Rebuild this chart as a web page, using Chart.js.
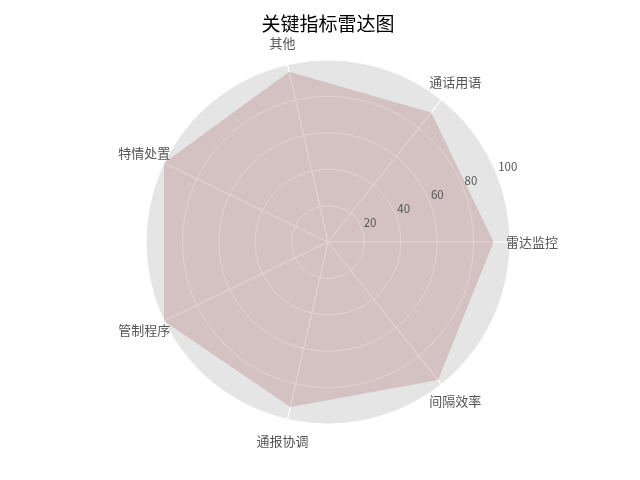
<!DOCTYPE html>
<html>
<head>
<meta charset="utf-8">
<script src="https://cdn.jsdelivr.net/npm/chart.js@4/dist/chart.umd.min.js"></script>
<style>
html,body{margin:0;padding:0;background:#fff;}
#wrap{width:640px;height:480px;}
</style>
</head>
<body>
<div id="wrap"><canvas id="c" width="640" height="480"></canvas></div>
<script>
// Data (counter-clockwise order starting at east, as in the reference)
const categories = ['雷达监控', '通话用语', '其他', '特情处置', '管制程序', '通报协调', '间隔效率'];
const values = [91, 91, 96, 100, 100, 93, 97];
const tickValues = [20, 40, 60, 80, 100];
const titleText = '关键指标雷达图';

// Chart.js radar runs clockwise; reverse the rest so first stays at east
const order = [0].concat(categories.map((_, i) => i).slice(1).reverse());
const chartLabels = order.map(i => categories[i]);
const chartValues = order.map(i => values[i]);

const FONT = '"Noto Sans CJK SC", "Noto Sans", sans-serif';

const overlay = {
  id: 'overlay',
  afterDatasetsDraw(chart) {
    const ctx = chart.ctx;
    const s = chart.scales.r;
    ctx.save();
    // r tick labels along 22.5 degrees
    const a = -22.5 * Math.PI / 180;
    ctx.fillStyle = '#555555';
    ctx.font = '11.5px ' + FONT;
    ctx.textAlign = 'left';
    ctx.textBaseline = 'alphabetic';
    tickValues.forEach(v => {
      const d = s.getDistanceFromCenterForValue(v);
      ctx.fillText(String(v), s.xCenter + Math.cos(a) * d + 2, s.yCenter + Math.sin(a) * d - 1.5);
    });
    // category labels centred on a circle outside the plot
    ctx.font = '13px ' + FONT;
    ctx.textAlign = 'center';
    ctx.textBaseline = 'middle';
    const outer = s.getDistanceFromCenterForValue(100) + 22;
    chartLabels.forEach((lab, i) => {
      const p = s.getPointPosition(i, outer);
      ctx.fillText(lab, p.x, p.y);
    });
    // title
    ctx.fillStyle = '#000000';
    ctx.font = '19px ' + FONT;
    ctx.fillText(titleText, s.xCenter, 24);
    ctx.restore();
  }
};

new Chart(document.getElementById('c'), {
  type: 'radar',
  data: {
    labels: chartLabels,
    datasets: [{
      data: chartValues,
      backgroundColor: 'rgba(188,143,143,0.4)',
      borderWidth: 0,
      borderColor: 'rgba(0,0,0,0)',
      pointRadius: 0,
      fill: true
    }]
  },
  options: {
    responsive: false,
    animation: false,
    layout: { padding: { left: 146, right: 130, top: 60, bottom: 56 } },
    plugins: { legend: { display: false }, title: { display: false }, tooltip: { enabled: false } },
    scales: {
      r: {
        min: 0,
        max: 100,
        startAngle: 90,
        backgroundColor: '#E5E5E5',
        ticks: { display: false, stepSize: 20 },
        pointLabels: { display: false },
        grid: { circular: true, color: '#FFFFFF', lineWidth: 1 },
        angleLines: { color: '#FFFFFF', lineWidth: 1.2 }
      }
    }
  },
  plugins: [overlay]
});
</script>
</body>
</html>
